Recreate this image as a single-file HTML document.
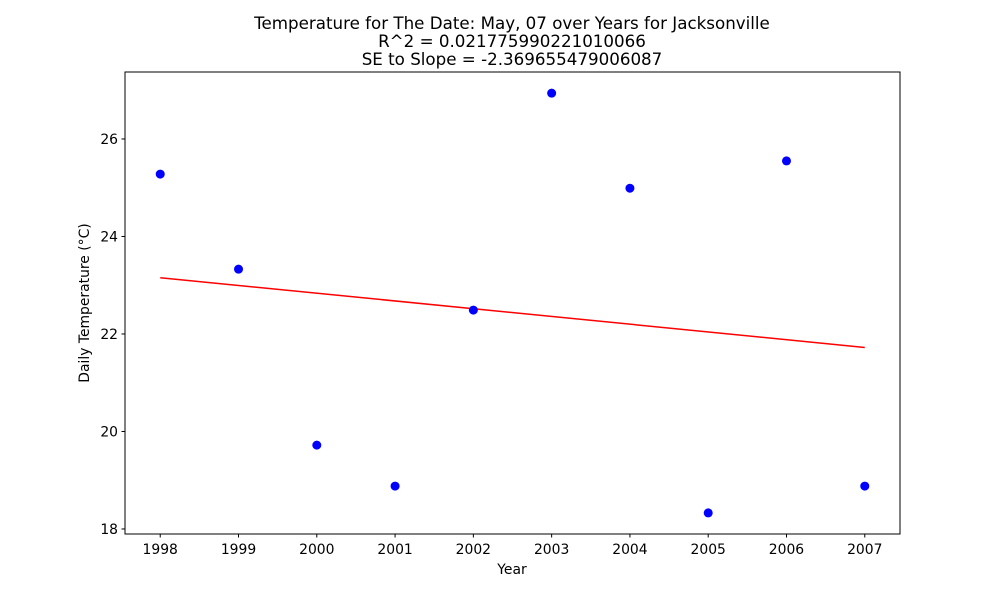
<!DOCTYPE html>
<html><head><meta charset="utf-8"><style>
body{margin:0;background:#fff}
svg{display:block;font-family:"DejaVu Sans","Liberation Sans",sans-serif}
</style></head><body>
<svg id="chart" width="1000" height="600">
<rect width="1000" height="600" fill="#fff"/>
<g id="title" text-anchor="middle" font-size="16.7" fill="#000">
<text x="512" y="29">Temperature for The Date: May, 07 over Years for Jacksonville</text>
<text x="512" y="47">R^2 = 0.021775990221010066</text>
<text x="512" y="65">SE to Slope = -2.369655479006087</text>
</g>
<g id="plot"></g>
<rect x="125" y="72" width="775" height="462" fill="none" stroke="#000" stroke-width="1"/>
<text x="512" y="574" text-anchor="middle" font-size="13.9">Year</text>
<text transform="translate(89,303) rotate(-90)" text-anchor="middle" font-size="13.9">Daily Temperature (°C)</text>
</svg>
<script>
const years=[1998,1999,2000,2001,2002,2003,2004,2005,2006,2007];
const temps=[25.28,23.33,19.72,18.88,22.49,26.94,24.99,18.33,25.55,18.88];
const yTicks=[18,20,22,24,26];
const xTicks=[1998,1999,2000,2001,2002,2003,2004,2005,2006,2007];
const NS='http://www.w3.org/2000/svg';
const L=125,R=900,T=72,B=534;
const xMin=1997.55,xMax=2007.45,yMin=17.897,yMax=27.374;
const xs=v=>L+(v-xMin)/(xMax-xMin)*(R-L);
const ys=v=>B-(v-yMin)/(yMax-yMin)*(B-T);
const g=document.getElementById('plot');
function mk(t,a){const e=document.createElementNS(NS,t);for(const k in a)e.setAttribute(k,a[k]);g.appendChild(e);return e;}
yTicks.forEach(v=>{
 const l=mk('line',{x1:L-3.5,x2:L,y1:ys(v),y2:ys(v),stroke:'#000'});
 
 
 const t=mk('text',{x:L-7,y:ys(v)+5,'text-anchor':'end','font-size':13.9});
 t.textContent=v;
 
 
});
xTicks.forEach(v=>{
 const l=mk('line',{x1:xs(v),x2:xs(v),y1:B,y2:B+3.5,stroke:'#000'});
 
 
 const t=mk('text',{x:xs(v),y:B+20,'text-anchor':'middle','font-size':13.9});
 t.textContent=v;
 
 
});
const n=years.length,mx=years.reduce((a,b)=>a+b)/n,my=temps.reduce((a,b)=>a+b)/n;
let sxy=0,sxx=0;years.forEach((x,i)=>{sxy+=(x-mx)*(temps[i]-my);sxx+=(x-mx)**2;});
const slope=sxy/sxx,ic=my-slope*mx;
const x0=years[0],x1=years[n-1];
const rl=mk('line',{x1:xs(x0),y1:ys(slope*x0+ic),x2:xs(x1),y2:ys(slope*x1+ic),stroke:'#ff0000','stroke-width':1.5});


years.forEach((x,i)=>{
 const c=mk('circle',{cx:xs(x),cy:ys(temps[i]),r:4.5,fill:'#0000ff'});
 
 
});
</script>
</body></html>
